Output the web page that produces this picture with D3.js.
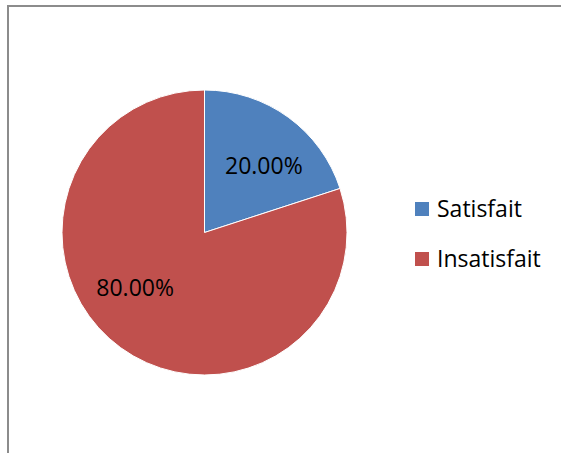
<!DOCTYPE html>
<html>
<head>
<meta charset="utf-8">
<script src="https://cdn.jsdelivr.net/npm/d3@7"></script>
<style>
  body { margin: 0; background: #fff; }
  text { font-family: "Open Sans", sans-serif; }
</style>
</head>
<body>
<script>
// chart data
let categories = ["Satisfait", "Insatisfait"];
let values = [20, 80];
let labels = ["20.00%", "80.00%"];
let colors = ["#4F81BD", "#C0504D"];

let svgWidth = 561,
	svgHeight = 453;

let svg = d3
	.select("body")
	.append("svg")
	.attr("width", svgWidth)
	.attr("height", svgHeight);

// outer frame (cut off at right and bottom)
svg.append("rect")
	.attr("x", 8)
	.attr("y", 6)
	.attr("width", 600)
	.attr("height", 500)
	.attr("fill", "none")
	.attr("stroke", "#8c8c8c")
	.attr("stroke-width", 2);

let cx = 204.5,
	cy = 232.5,
	radius = 142.5;

let pie = d3.pie().sort(null).value(d => d);
let arcs = pie(values);
let arc = d3.arc().innerRadius(0).outerRadius(radius);

let g = svg.append("g").attr("transform", `translate(${cx},${cy})`);

g.selectAll("path")
	.data(arcs)
	.enter()
	.append("path")
	.attr("d", arc)
	.attr("fill", (d, i) => colors[i])
	.attr("stroke", "#fff")
	.attr("stroke-width", 1);

//Percent labels (best-fit placement, nudged off the centroid like Excel)
let labelArc = d3.arc().innerRadius(radius * 0.625).outerRadius(radius * 0.625);
let nudge = [[7, 5], [-17, -17]];
g.selectAll("text.pct")
	.data(arcs)
	.enter()
	.append("text")
	.attr("class", "pct")
	.attr("transform", (d, i) => {
		let c = labelArc.centroid(d);
		return `translate(${c[0] + nudge[i][0]},${c[1] + nudge[i][1]})`;
	})
	.attr("text-anchor", "middle")
	.attr("y", 8.5)
	.style("font-size", "23px")
	.style("fill", "#000")
	.text((d, i) => labels[i]);

//Legend
let legend = svg.append("g").attr("transform", "translate(415,202)");
let items = legend.selectAll("g")
	.data(categories)
	.enter()
	.append("g")
	.attr("transform", (d, i) => `translate(0,${i * 50})`);
items.append("rect")
	.attr("width", 14)
	.attr("height", 14)
	.attr("fill", (d, i) => colors[i]);
items.append("text")
	.attr("x", 22)
	.attr("y", 15)
	.style("font-size", "23px")
	.style("fill", "#000")
	.text(d => d);
</script>
</body>
</html>
